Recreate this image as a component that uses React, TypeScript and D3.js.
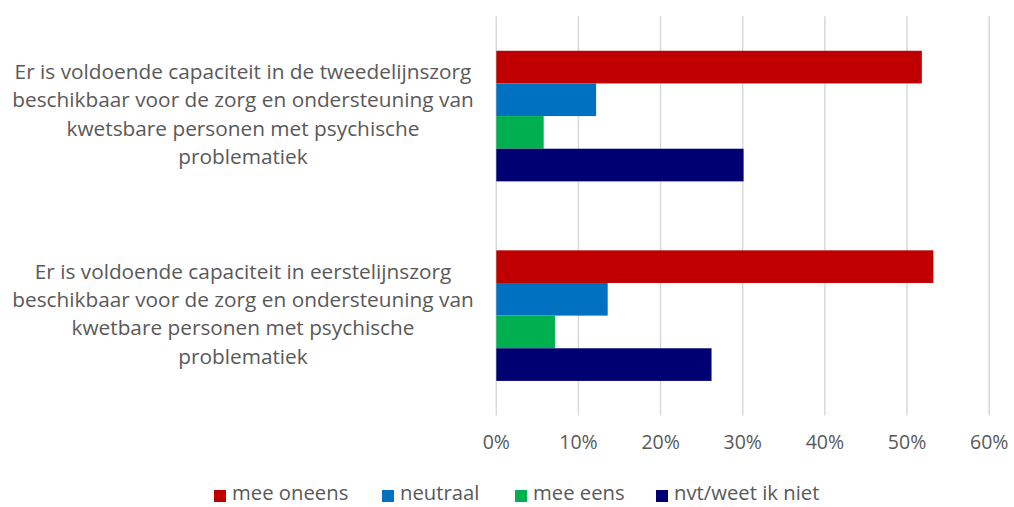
import React from "react";
import * as d3 from "d3";

const categories = [
  ["Er is voldoende capaciteit in de tweedelijnszorg", "beschikbaar voor de zorg en ondersteuning van", "kwetsbare personen met psychische", "problematiek"],
  ["Er is voldoende capaciteit in eerstelijnszorg", "beschikbaar voor de zorg en ondersteuning van", "kwetbare personen met psychische", "problematiek"],
];
const seriesNames = ["mee oneens", "neutraal", "mee eens", "nvt/weet ik niet"];
const seriesColors = ["#C00000", "#0070C0", "#00B050", "#000072"];
const meeOneens = [0.518, 0.532];
const neutraal = [0.1215, 0.1356];
const meeEens = [0.0577, 0.0714];
const nvt = [0.301, 0.262];
const seriesValues = [meeOneens, neutraal, meeEens, nvt];
const ticks = [0, 0.1, 0.2, 0.3, 0.4, 0.5, 0.6];

const W = 1014, H = 507;
const FONT = "'Open Sans', 'Liberation Sans', sans-serif";
const TXT = "#595959";

export default function App() {
  const left = 496.3, right = 989.2, top = 16.3, bottom = 415.4;
  const x = d3.scaleLinear().domain([0, 0.6]).range([left, right]);
  const y0 = d3.scaleBand<number>().domain([0, 1]).range([top, bottom]).paddingInner(0).paddingOuter(0);
  const bw = y0.bandwidth();
  const groupH = 130.6;
  const y1 = d3.scaleBand<number>().domain([0, 1, 2, 3]).range([0, groupH]).padding(0);
  const legendX = [214, 382, 515, 656];
  const legendY = 495;
  return (
    <svg width={W} height={H} style={{ position: "absolute", left: 0, top: 0 }}>
      <rect width={W} height={H} fill="#fff" />
      {ticks.map((t) => (
        <line key={t} x1={x(t)} x2={x(t)} y1={top} y2={bottom} stroke="#d9d9d9" strokeWidth={1.5} />
      ))}
      {categories.map((_, ci) =>
        seriesValues.map((vals, si) => {
          const yy = (y0(ci) as number) + (bw - groupH) / 2 + (y1(si) as number);
          return (
            <rect key={`${ci}-${si}`} x={x(0)} y={yy} width={x(vals[ci]) - x(0)} height={y1.bandwidth()} fill={seriesColors[si]} />
          );
        })
      )}
      {ticks.map((t) => (
        <text key={"t" + t} x={x(t)} y={443.5} textAnchor="middle" dominantBaseline="middle" fill={TXT} fontFamily={FONT} fontSize={19.5}>
          {d3.format(".0%")(t)}
        </text>
      ))}
      {categories.map((lines, ci) => {
        const cy = (y0(ci) as number) + bw / 2;
        const lh = 28.3;
        return (
          <text key={"c" + ci} textAnchor="middle" fill={TXT} fontFamily={FONT} fontSize={20.8}>
            {lines.map((ln, li) => (
              <tspan key={li} x={243} y={cy + (li - (lines.length - 1) / 2) * lh} dominantBaseline="middle">
                {ln}
              </tspan>
            ))}
          </text>
        );
      })}
      {seriesNames.map((n, i) => (
        <g key={n}>
          <rect x={legendX[i]} y={legendY - 5} width={12} height={12} fill={seriesColors[i]} />
          <text x={legendX[i] + 18} y={legendY} dominantBaseline="middle" fill={TXT} fontFamily={FONT} fontSize={20.3}>
            {n}
          </text>
        </g>
      ))}
    </svg>
  );
}
